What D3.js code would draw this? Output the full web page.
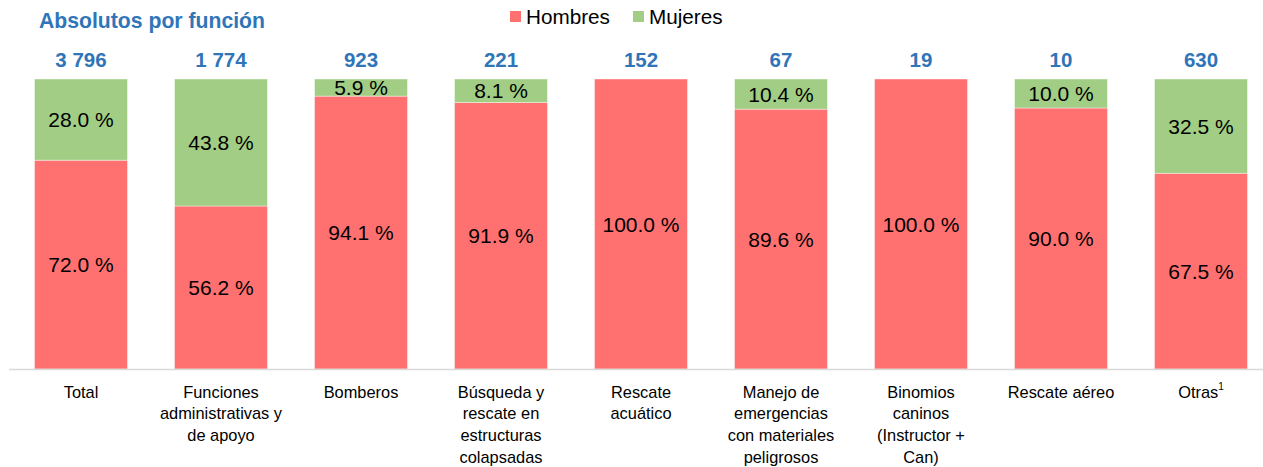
<!DOCTYPE html>
<html>
<head>
<meta charset="utf-8">
<script src="https://cdn.jsdelivr.net/npm/d3@7"></script>
<style>
  html, body { margin: 0; padding: 0; background: #fff; }
  svg { display: block; font-family: Arial, "Liberation Sans", sans-serif; }
</style>
</head>
<body>
<svg id="chart" width="1263" height="467"></svg>
<script>
const categories = ["Total", "Funciones administrativas y de apoyo", "Bomberos", "Búsqueda y rescate en estructuras colapsadas", "Rescate acuático", "Manejo de emergencias con materiales peligrosos", "Binomios caninos (Instructor + Can)", "Rescate aéreo", "Otras"];
const tickLines = [
  ["Total"],
  ["Funciones", "administrativas y", "de apoyo"],
  ["Bomberos"],
  ["Búsqueda y", "rescate en", "estructuras", "colapsadas"],
  ["Rescate", "acuático"],
  ["Manejo de", "emergencias", "con materiales", "peligrosos"],
  ["Binomios", "caninos", "(Instructor +", "Can)"],
  ["Rescate aéreo"],
  ["Otras"]
];
const tickSuperscripts = ["", "", "", "", "", "", "", "", "1"];
const hombres = [72.0, 56.2, 94.1, 91.9, 100.0, 89.6, 100.0, 90.0, 67.5];
const mujeres = [28.0, 43.8, 5.9, 8.1, 0.0, 10.4, 0.0, 10.0, 32.5];
const totals = [3796, 1774, 923, 221, 152, 67, 19, 10, 630];
const seriesNames = ["Hombres", "Mujeres"];
const title = "Absolutos por función";

const colors = { Hombres: "#ff7171", Mujeres: "#a2cd84" };
const blue = "#2f75b8";

const svg = d3.select("#chart");

const x = d3.scaleBand().domain(categories).range([11, 1271]).paddingInner(0.336).paddingOuter(0.168);
const y = d3.scaleLinear().domain([0, 100]).range([369, 79]);

const rows = categories.map((c, i) => ({ cat: c, Hombres: hombres[i], Mujeres: mujeres[i] }));
const stacked = d3.stack().keys(seriesNames)(rows);

const fmtPct = v => d3.format(".1f")(v) + " %";
const fmtTotal = v => d3.format(",")(v).replace(/,/g, " ");

// bars
const layers = svg.append("g").selectAll("g").data(stacked).join("g")
  .attr("fill", d => colors[d.key]);
layers.selectAll("rect").data(d => d).join("rect")
  .attr("x", d => x(d.data.cat))
  .attr("width", x.bandwidth())
  .attr("y", d => y(d[1]))
  .attr("height", d => y(d[0]) - y(d[1]))
  .attr("stroke", "#ffffff")
  .attr("stroke-opacity", 0.5)
  .attr("stroke-width", 0.8);

// segment labels
const labels = svg.append("g").attr("font-size", 21).attr("fill", "#000").attr("text-anchor", "middle");
stacked.forEach(layer => {
  layer.forEach(d => {
    const v = d[1] - d[0];
    if (v <= 0) return;
    labels.append("text")
      .attr("x", x(d.data.cat) + x.bandwidth() / 2)
      .attr("y", (y(d[0]) + y(d[1])) / 2 + 7.5)
      .text(fmtPct(d.data[layer.key]));
  });
});

// totals
svg.append("g").selectAll("text").data(categories).join("text")
  .attr("x", c => x(c) + x.bandwidth() / 2)
  .attr("y", 67)
  .attr("text-anchor", "middle")
  .attr("font-size", 20.5)
  .attr("font-weight", "bold")
  .attr("fill", blue)
  .text((c, i) => fmtTotal(totals[i]));

// x axis
const axis = svg.append("g").attr("transform", "translate(0,369.5)")
  .call(d3.axisBottom(x).tickSize(0).tickSizeOuter(0).tickFormat(""));
axis.select(".domain").remove();
axis.append("line").attr("x1", 9).attr("x2", 1263).attr("y1", 0).attr("y2", 0)
  .attr("stroke", "#d9d9d9").attr("stroke-width", 1.5);
axis.selectAll(".tick text").each(function(c) {
  const i = categories.indexOf(c);
  const t = d3.select(this)
    .attr("font-size", 16.4).attr("fill", "#000").attr("font-family", "Arial, 'Liberation Sans', sans-serif")
    .attr("y", 0).attr("dy", null);
  tickLines[i].forEach((line, k) => {
    t.append("tspan").attr("x", 0).attr("y", 28 + k * 21.7).text(line);
  });
  if (tickSuperscripts[i]) {
    t.append("tspan").attr("font-size", 10).attr("dy", -8).text(tickSuperscripts[i]);
  }
});

// title
svg.append("text").attr("x", 39).attr("y", 28)
  .attr("font-size", 21.2).attr("font-weight", "bold").attr("fill", blue)
  .text(title);

// legend
const legend = svg.append("g");
const legendX = [510, 633];
seriesNames.forEach((s, i) => {
  legend.append("rect").attr("x", legendX[i]).attr("y", 11).attr("width", 11).attr("height", 11).attr("fill", colors[s]);
  legend.append("text").attr("x", legendX[i] + 16).attr("y", 24)
    .attr("font-size", 20.7).attr("fill", "#000").text(s);
});
</script>
</body>
</html>
